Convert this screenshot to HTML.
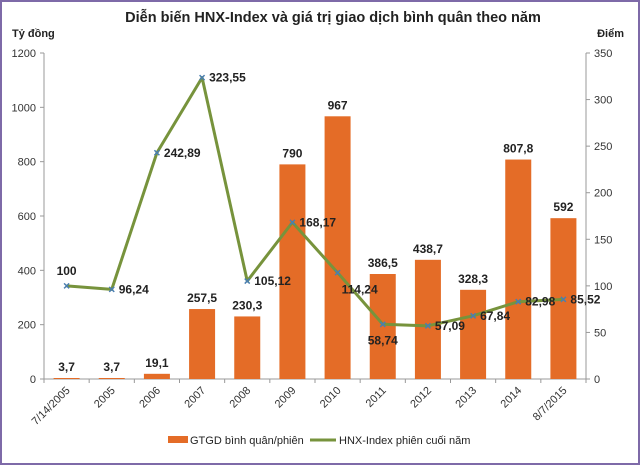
<!DOCTYPE html>
<html><head><meta charset="utf-8"><style>
html,body{margin:0;padding:0;background:#fff}
svg{display:block;font-family:"Liberation Sans",sans-serif}
</style></head><body>
<svg width="640" height="465" viewBox="0 0 640 465">
<rect x="1" y="1" width="638" height="463" fill="#fff" stroke="#7e6aa8" stroke-width="2"/>
<text x="333" y="22" text-anchor="middle" font-size="14.5" font-weight="bold" fill="#222">Diễn biến HNX-Index và giá trị giao dịch bình quân theo năm</text>
<text x="12" y="37" font-size="11" font-weight="bold" fill="#222">Tỷ đồng</text>
<text x="624" y="37" text-anchor="end" font-size="11" font-weight="bold" fill="#222">Điểm</text>
<g id="g"></g>
<g>
<rect x="168" y="436" width="20" height="7" fill="#e46c27"/>
<text x="190" y="444" font-size="11" fill="#222">GTGD bình quân/phiên</text>
<line x1="310" y1="440" x2="336" y2="440" stroke="#77933c" stroke-width="3"/>
<text x="339" y="444" font-size="11" fill="#222">HNX-Index phiên cuối năm</text>
</g>
</svg>
<script>
const categories=["7/14/2005","2005","2006","2007","2008","2009","2010","2011","2012","2013","2014","8/7/2015"];
const barValues=[3.7,3.7,19.1,257.5,230.3,790,967,386.5,438.7,328.3,807.8,592];
const barLabels=["3,7","3,7","19,1","257,5","230,3","790","967","386,5","438,7","328,3","807,8","592"];
const lineValues=[100,96.24,242.89,323.55,105.12,168.17,114.24,58.74,57.09,67.84,82.98,85.52];
const lineLabels=["100","96,24","242,89","323,55","105,12","168,17","114,24","58,74","57,09","67,84","82,98","85,52"];
const leftTicks=[0,200,400,600,800,1000,1200];
const rightTicks=[0,50,100,150,200,250,300,350];
const X0=44,X1=586,Y0=379,Y1=53;
const step=(X1-X0)/categories.length;
const cx=i=>X0+step*(i+0.5);
const yL=v=>Y0-(v/1200)*(Y0-Y1);
const yR=v=>Y0-(v/350)*(Y0-Y1);
const NS="http://www.w3.org/2000/svg";
const g=document.getElementById('g');
function mk(t,a,p){const e=document.createElementNS(NS,t);for(const k in a)e.setAttribute(k,a[k]);(p||g).appendChild(e);return e;}
let e;
e=mk('line',{x1:X0,y1:Y1,x2:X0,y2:Y0,stroke:'#999'});


e=mk('line',{x1:X1,y1:Y1,x2:X1,y2:Y0,stroke:'#999'});


e=mk('line',{x1:X0,y1:Y0,x2:X1,y2:Y0,stroke:'#999'});


leftTicks.forEach(v=>{const y=yL(v);
 mk('line',{x1:X0-4,y1:y,x2:X0,y2:y,stroke:'#999'});
 e=mk('text',{x:X0-8,y:y+4,'text-anchor':'end','font-size':11,fill:'#333'});e.textContent=v;
 
 });
rightTicks.forEach(v=>{const y=yR(v);
 mk('line',{x1:X1,y1:y,x2:X1+4,y2:y,stroke:'#999'});
 e=mk('text',{x:X1+8,y:y+4,'font-size':11,fill:'#333'});e.textContent=v;
 
 });
for(let i=0;i<=categories.length;i++){const x=X0+step*i;mk('line',{x1:x,y1:Y0,x2:x,y2:Y0+4,stroke:'#999'});}
categories.forEach((c,i)=>{const x=cx(i)+4,y=Y0+12;
 e=mk('text',{x:x,y:y,'text-anchor':'end','font-size':11,fill:'#333',transform:`rotate(-45 ${x} ${y})`});e.textContent=c;
 
 });
barValues.forEach((v,i)=>{const y=yL(v);
 e=mk('rect',{x:cx(i)-13,y:y,width:26,height:Y0-y,fill:'#e46c27'});
 
 
 e=mk('text',{x:cx(i),y:y-7,'text-anchor':'middle','font-size':12,'font-weight':'bold',fill:'#222'});e.textContent=barLabels[i];
 
 });
let d=lineValues.map((v,i)=>(i?'L':'M')+cx(i)+' '+yR(v)).join(' ');
e=mk('path',{d:d,fill:'none',stroke:'#77933c','stroke-width':3,'stroke-linejoin':'round'});


lineValues.forEach((v,i)=>{const x=cx(i),y=yR(v);
 e=mk('path',{d:`M${x-2.5} ${y-2.5}L${x+2.5} ${y+2.5}M${x-2.5} ${y+2.5}L${x+2.5} ${y-2.5}`,stroke:'#4a7eb0','stroke-width':1.5});
 
 
 let tx=x+7,ty=y+4,anc='start';
 if(i===0){tx=x;ty=y-11;anc='middle';}
 if(i===6){tx=x+4;ty=y+21;}
 if(i===7){tx=x;ty=y+20;anc='middle';}
 e=mk('text',{x:tx,y:ty,'text-anchor':anc,'font-size':12,'font-weight':'bold',fill:'#222'});e.textContent=lineLabels[i];
 
 });
</script>
</body></html>
